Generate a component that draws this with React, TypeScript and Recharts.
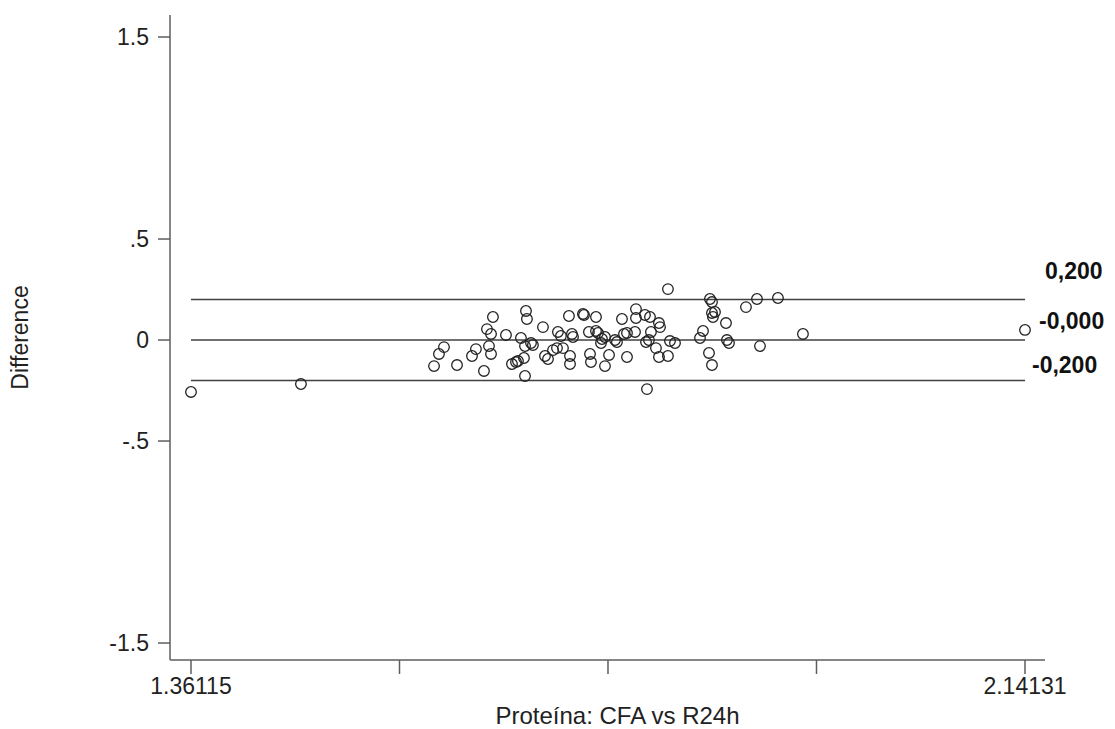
import React from 'react';
import { ScatterChart, Scatter, XAxis, YAxis, ReferenceLine } from 'recharts';

// Bland-Altman: mean of the two methods (x) vs their difference (y)
const meanValues = [
  1.36115, 1.4640, 1.5885, 1.5931, 1.5978, 1.6100, 1.6240, 1.6277, 1.6352, 1.6380,
  1.6399, 1.6418, 1.6418, 1.6436, 1.6558, 1.6614, 1.6652, 1.6670, 1.6698, 1.6726,
  1.6736, 1.6745, 1.6754, 1.6736, 1.6792, 1.6810, 1.6904, 1.6923, 1.6951, 1.6998,
  1.7035, 1.7044, 1.7072, 1.7091, 1.7147, 1.7157, 1.7157, 1.7175, 1.7185, 1.7278,
  1.7288, 1.7334, 1.7344, 1.7353, 1.7400, 1.7400, 1.7419, 1.7447, 1.7456, 1.7484,
  1.7484, 1.7522, 1.7578, 1.7596, 1.7643, 1.7662, 1.7690, 1.7690, 1.7765, 1.7774,
  1.7774, 1.7858, 1.7905, 1.7868, 1.7877, 1.7895, 1.7914, 1.7961, 1.7989, 1.7999,
  1.7989, 1.8073, 1.8073, 1.8092, 1.8139, 1.8373, 1.8401, 1.8457, 1.8485, 1.8466,
  1.8485, 1.8485, 1.8513, 1.8494, 1.8616, 1.8625, 1.8644, 1.8803, 1.8906, 1.8934,
  1.9102, 1.9336, 2.14131,
];

const diffValues = [
  -0.257, -0.218, -0.129, -0.069, -0.035, -0.124, -0.079, -0.045, -0.153, 0.054,
  -0.030, -0.069, 0.030, 0.114, 0.025, -0.119, -0.109, -0.104, 0.010, -0.089,
  -0.178, 0.144, 0.104, -0.030, -0.015, -0.025, 0.064, -0.079, -0.094, -0.050,
  -0.040, 0.040, 0.020, -0.040, 0.119, -0.079, -0.119, 0.030, 0.015, 0.129,
  0.124, 0.040, -0.069, -0.109, 0.114, 0.045, 0.035, -0.015, 0.005, 0.015,
  -0.129, -0.074, 0.000, -0.010, 0.104, 0.030, 0.035, -0.084, 0.040, 0.153,
  0.109, 0.124, 0.114, -0.010, -0.243, 0.000, 0.040, -0.040, 0.084, 0.064,
  -0.084, -0.079, 0.252, -0.005, -0.015, 0.010, 0.045, -0.064, -0.124, 0.203,
  0.188, 0.134, 0.139, 0.114, 0.084, 0.000, -0.015, 0.163, 0.203, -0.030,
  0.208, 0.030, 0.050,
];

// limits of agreement and mean difference
const limitValues = [0.2, 0, -0.2];
const limitLabels = ['0,200', '-0,000', '-0,200'];

const xTicks = [1.36115, 1.55619, 1.75123, 1.94627, 2.14131];
const yTicks = [-1.5, -0.5, 0, 0.5, 1.5];
const yTickLabels = ['-1.5', '-.5', '0', '.5', '1.5'];

const xTitle = 'Proteína: CFA vs R24h';
const yTitle = 'Difference';

const data = meanValues.map((m, i) => ({ mean: m, diff: diffValues[i] }));

const FONT = '"Liberation Sans", Arial, sans-serif';
const AXIS_COLOR = '#5e5e5e';
const LINE_COLOR = '#404040';

// label placement next to the right end of each line
const labelOffsets = [
  { dx: 20, dy: -21 },
  { dx: 14, dy: -11 },
  { dx: 7, dy: -7 },
];

const Circle = (props: any) => {
  const { cx, cy } = props;
  if (cx == null || cy == null) return null;
  return <circle cx={cx} cy={cy} r={5.3} fill="none" stroke="#222" strokeWidth={1.3} />;
};

const LimitLabel = ({ viewBox, text, idx }: any) => {
  const off = labelOffsets[idx];
  const x = viewBox.x + viewBox.width + off.dx;
  const y = viewBox.y + off.dy;
  return (
    <text x={x} y={y} fontFamily={FONT} fontSize={23} fontWeight="bold" fill="#111">
      {text}
    </text>
  );
};

const YTitle = ({ viewBox }: any) => (
  <text
    x={viewBox.x + 28}
    y={viewBox.y + viewBox.height / 2}
    transform={`rotate(-90, ${viewBox.x + 28}, ${viewBox.y + viewBox.height / 2})`}
    textAnchor="middle"
    fontFamily={FONT}
    fontSize={23}
    fill="#222"
  >
    {yTitle}
  </text>
);

const XTitle = ({ viewBox }: any) => (
  <text
    x={viewBox.x + viewBox.width / 2 + 10}
    y={viewBox.y + 64}
    textAnchor="middle"
    fontFamily={FONT}
    fontSize={24}
    fill="#222"
  >
    {xTitle}
  </text>
);

export default function App() {
  return (
    <div style={{ position: 'absolute', left: 0, top: 0, background: '#fff' }}>
      <ScatterChart width={1115} height={729} margin={{ top: 15, right: 70, bottom: 0, left: 0 }}>
        <XAxis
          type="number"
          dataKey="mean"
          domain={[1.34151, 2.16002]}
          ticks={xTicks}
          allowDataOverflow
          height={69}
          tickSize={14}
          tickMargin={4}
          stroke={AXIS_COLOR}
          strokeWidth={1.5}
          tick={{ fill: '#222', fontSize: 23, fontFamily: FONT }}
          tickFormatter={(v: number, i: number) => (i === 0 || i === xTicks.length - 1 ? v.toFixed(5) : '')}
          label={<XTitle />}
        />
        <YAxis
          type="number"
          dataKey="diff"
          domain={[-1.584, 1.609]}
          ticks={yTicks}
          allowDataOverflow
          width={170}
          tickSize={12}
          tickMargin={9}
          stroke={AXIS_COLOR}
          strokeWidth={1.5}
          tick={{ fill: '#222', fontSize: 23, fontFamily: FONT }}
          tickFormatter={(v: number) => yTickLabels[yTicks.indexOf(v)] ?? ''}
          label={<YTitle />}
        />
        {limitValues.map((v, i) => (
          <ReferenceLine
            key={i}
            segment={[
              { x: meanValues[0], y: v },
              { x: meanValues[meanValues.length - 1], y: v },
            ]}
            stroke={LINE_COLOR}
            strokeWidth={1.5}
            ifOverflow="visible"
            label={<LimitLabel text={limitLabels[i]} idx={i} />}
          />
        ))}
        <Scatter data={data} shape={<Circle />} isAnimationActive={false} />
      </ScatterChart>
    </div>
  );
}
